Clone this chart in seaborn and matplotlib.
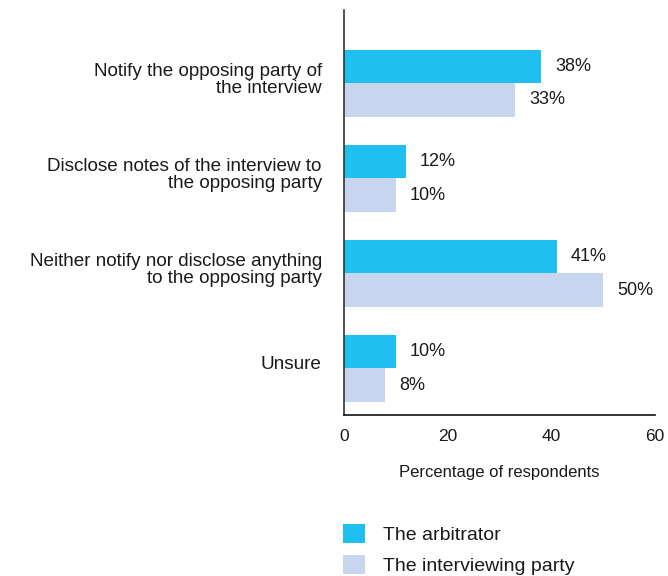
import matplotlib
matplotlib.use("Agg")
import matplotlib.pyplot as plt
import matplotlib.patches as mpatches
import matplotlib.transforms as mtransforms
import pandas as pd
import seaborn as sns

categories = [
    "Notify the opposing party of\nthe interview",
    "Disclose notes of the interview to\nthe opposing party",
    "Neither notify nor disclose anything\nto the opposing party",
    "Unsure",
]
groups = ["The arbitrator", "The interviewing party"]
arbitrator = [38, 12, 41, 10]
interviewing_party = [33, 10, 50, 8]
xticks = [0, 20, 40, 60]

colors = ["#1FBFF0", "#C8D5EE"]
text_color = "#1a1a1a"

df = pd.DataFrame(
    {
        "category": categories * 2,
        "group": [groups[0]] * len(categories) + [groups[1]] * len(categories),
        "value": arbitrator + interviewing_party,
    }
)

sns.set_style("white")
plt.rcParams["font.family"] = ["Liberation Sans", "DejaVu Sans"]

fig = plt.figure(figsize=(6.68, 5.76), dpi=100)
ax = fig.add_axes([344 / 668, 1 - 415 / 576, (655 - 344) / 668, 405 / 576])

sns.barplot(
    data=df,
    x="value",
    y="category",
    hue="group",
    hue_order=groups,
    order=categories,
    palette=colors,
    width=0.705,
    gap=0,
    dodge=True,
    saturation=1,
    linewidth=0,
    legend=False,
    ax=ax,
)

for container in ax.containers:
    ax.bar_label(container, fmt="{:.0f}%", padding=10, fontsize=13, color=text_color)

ax.set_xlim(0, 60)
ax.set_ylim(3.49, -0.77)
ax.set_xticks(xticks)
ax.set_xticklabels([str(t) for t in xticks])
ax.tick_params(axis="x", length=0, pad=10, labelsize=12.5, labelcolor=text_color)
ax.tick_params(axis="y", length=0, pad=16, labelsize=13.6, labelcolor=text_color)
ax.set_xlabel("Percentage of respondents", fontsize=12, color=text_color, labelpad=15)
ax.set_ylabel("")

# category labels: tight line spacing, nudged up a little
shift = mtransforms.ScaledTranslation(0, 4 / 72, fig.dpi_scale_trans)
for lab in ax.get_yticklabels():
    lab.set_linespacing(1.02)
    lab.set_transform(lab.get_transform() + shift)

for side in ["top", "right"]:
    ax.spines[side].set_visible(False)
ax.spines["left"].set_color("#333333")
ax.spines["left"].set_linewidth(1.2)
ax.spines["bottom"].set_color("#111111")
ax.spines["bottom"].set_linewidth(1.2)

handles = [mpatches.Patch(facecolor=c, edgecolor="none", label=g) for c, g in zip(colors, groups)]
fig.legend(
    handles=handles,
    loc="upper left",
    bbox_to_anchor=(335 / 668, 1 - 516 / 576),
    frameon=False,
    fontsize=14,
    handlelength=1.15,
    handleheight=1.15,
    handletextpad=0.9,
    labelspacing=0.55,
    borderaxespad=0,
    labelcolor=text_color,
)

fig.savefig("out.png", dpi=100)
